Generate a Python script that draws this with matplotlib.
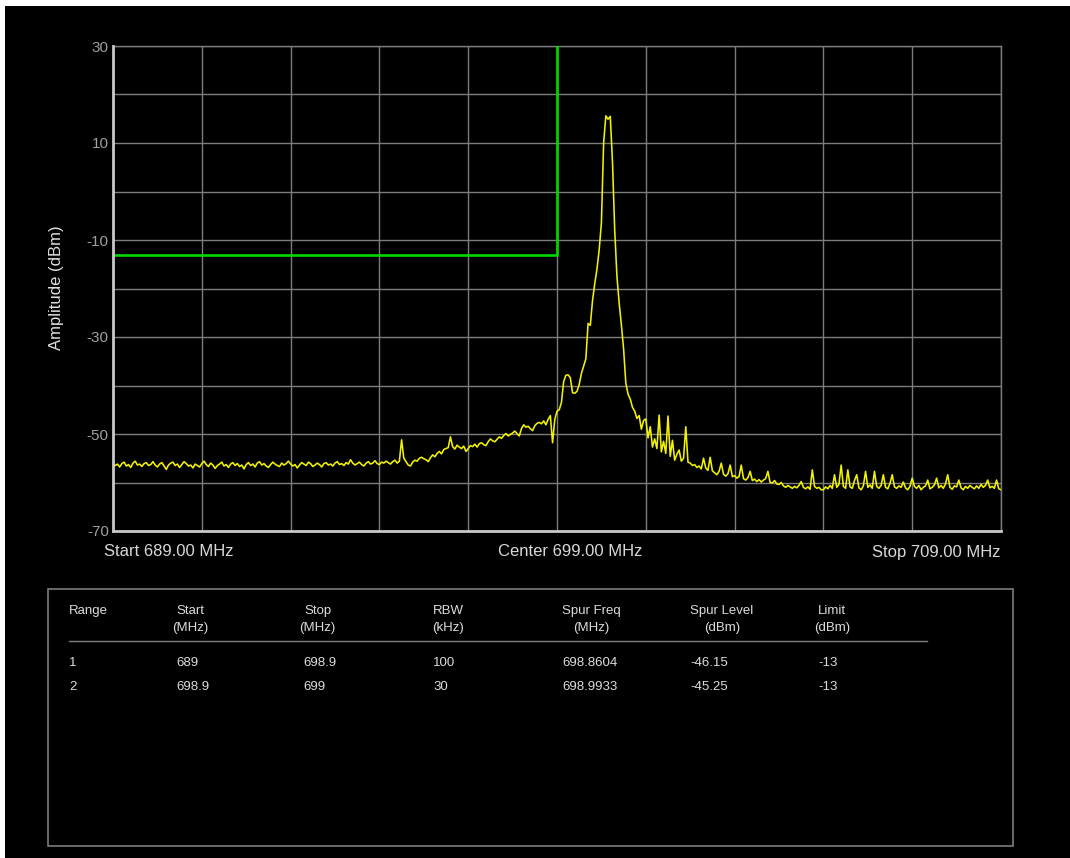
import numpy as np
import matplotlib
matplotlib.use("Agg")
import matplotlib.pyplot as plt
from matplotlib.patches import Rectangle
from matplotlib.lines import Line2D

# ---------------- data ----------------
start_mhz = 689.0
stop_mhz = 709.0
step_mhz = 0.05

# trace level (dBm) every 0.05 MHz from 689.00 to 709.00 (one row per MHz)
trace_dbm = [
    # 689
    -56.0, -56.5, -56.2, -56.8, -56.1, -55.8, -56.6, -56.3, -56.9, -56.0,
    -55.6, -56.4, -56.2, -56.7, -56.1, -55.9, -56.5, -56.3, -55.7, -56.4,
    # 690
    -56.8, -56.2, -55.9, -56.6, -57.3, -56.4, -56.0, -55.8, -56.5, -56.2,
    -56.9, -56.3, -55.7, -56.1, -56.6, -56.4, -57.0, -56.2, -56.5, -56.8,
    # 691
    -56.1, -55.6, -56.3, -56.7, -56.0, -56.4, -57.1, -56.5, -56.2, -55.8,
    -56.6, -56.3, -56.9, -56.2, -55.9, -56.5, -56.1, -56.7, -56.4, -57.2,
    # 692
    -56.3, -55.9, -56.5, -56.2, -56.8, -56.0, -55.7, -56.4, -56.1, -56.6,
    -56.9, -56.3, -55.8, -56.2, -56.5, -56.7, -56.0, -56.4, -56.1, -55.6,
    # 693
    -56.2, -56.6, -56.3, -57.0, -56.4, -55.9, -56.2, -56.5, -55.8, -56.1,
    -56.7, -56.4, -56.0, -56.3, -56.8, -56.1, -55.9, -56.4, -56.2, -56.6,
    # 694
    -56.0, -55.7, -56.3, -56.1, -56.5, -55.9, -56.2, -55.3, -56.0, -56.4,
    -56.1, -55.8, -56.3, -56.6, -56.0, -55.7, -56.2, -56.0, -55.5, -56.1,
    # 695
    -56.3, -55.8, -56.0, -55.6, -55.9, -56.2, -55.7, -55.4, -56.0, -55.6,
    -51.2, -55.0, -55.7, -56.4, -56.6, -55.8, -55.4, -55.6, -55.0, -54.8,
    # 696
    -55.1, -55.3, -55.7, -54.9, -54.3, -54.7, -54.0, -53.6, -54.1, -53.2,
    -53.0, -52.8, -50.6, -52.6, -53.1, -52.3, -52.7, -53.0, -52.5, -53.6,
    # 697
    -53.0, -52.4, -52.6, -52.1, -52.7, -52.0, -51.8, -52.2, -52.4, -51.6,
    -51.0, -51.4, -51.6, -51.1, -50.6, -50.9, -50.3, -49.9, -50.4, -50.1,
    # 698
    -49.8, -49.4, -49.9, -50.4, -48.9, -48.1, -48.6, -48.4, -48.9, -49.3,
    -48.3, -47.8, -47.6, -47.9, -47.3, -48.1, -47.0, -46.2, -51.8, -47.0,
    # 699
    -45.3, -45.0, -43.5, -39.2, -37.9, -37.8, -38.4, -41.5, -41.6, -41.2,
    -39.8, -37.5, -36.0, -34.5, -27.2, -27.6, -22.5, -19.0, -16.0, -12.0,
    # 700
    -6.5, 10.0, 15.6, 14.9, 15.5, 6.0, -8.0, -17.5, -23.0, -27.5,
    -32.5, -39.5, -41.8, -42.8, -44.5, -45.3, -46.8, -46.2, -49.0, -47.2,
    # 701
    -46.9, -50.8, -48.5, -52.7, -51.0, -53.0, -46.1, -53.7, -51.5, -54.0,
    -46.3, -54.6, -51.3, -55.4, -54.2, -53.3, -55.6, -55.0, -48.5, -55.8,
    # 702
    -56.0, -56.5, -56.3, -56.9, -56.6, -57.2, -55.0, -57.0, -57.5, -54.8,
    -57.6, -58.0, -58.4, -57.7, -56.0, -58.3, -58.7, -58.2, -56.4, -58.8,
    # 703
    -58.6, -59.1, -58.8, -56.4, -59.2, -59.5, -59.0, -57.7, -59.6, -59.3,
    -59.8, -59.4, -59.9, -59.5, -59.2, -57.7, -60.0, -60.1, -59.6, -60.3,
    # 704
    -60.4, -60.0, -60.7, -61.0, -60.6, -60.9, -61.2, -60.8, -61.1, -60.6,
    -59.8, -61.0, -61.3, -60.9, -61.4, -57.4, -60.8, -61.2, -61.0, -61.5,
    # 705
    -61.5, -60.9, -61.3, -60.6, -61.2, -58.4, -61.0, -60.4, -56.4, -60.8,
    -61.2, -57.4, -60.9, -61.2, -59.6, -58.4, -61.1, -61.5, -60.7, -57.7,
    # 706
    -61.0, -60.5, -61.2, -57.7, -60.8, -61.2, -60.6, -58.4, -61.0, -61.3,
    -60.2, -58.4, -60.9, -61.2, -60.7, -61.0, -59.9, -61.1, -61.5, -60.8,
    # 707
    -59.1, -60.8, -61.2, -60.6, -61.5, -61.0, -60.7, -59.5, -61.3, -61.0,
    -60.5, -59.1, -61.1, -60.6, -61.2, -60.3, -58.4, -61.0, -61.4, -60.7,
    # 708
    -60.9, -59.5, -61.1, -61.5, -60.8, -61.2, -60.6, -61.0, -61.3, -60.7,
    -61.2, -60.4, -61.0, -60.6, -59.5, -61.1, -60.8, -61.2, -59.5, -61.3,
    # 709
    -61.5,
]

limit_freq = [689.0, 699.0, 699.0]
limit_dbm = [-13.0, -13.0, 30.0]

y_ticks = [30, 20, 10, 0, -10, -20, -30, -40, -50, -60, -70]
y_tick_labels = ["30", "", "10", "", "-10", "", "-30", "", "-50", "", "-70"]
x_label_start = "Start 689.00 MHz"
x_label_center = "Center 699.00 MHz"
x_label_stop = "Stop 709.00 MHz"
y_label = "Amplitude (dBm)"

table_headers = [["Range", ""], ["Start", "(MHz)"], ["Stop", "(MHz)"], ["RBW", "(kHz)"],
                 ["Spur Freq", "(MHz)"], ["Spur Level", "(dBm)"], ["Limit", "(dBm)"]]
table_rows = [
    ["1", "689", "698.9", "100", "698.8604", "-46.15", "-13"],
    ["2", "698.9", "699", "30", "698.9933", "-45.25", "-13"],
]

# ---------------- figure ----------------
W, H = 1070, 858
fig = plt.figure(figsize=(W / 100, H / 100), dpi=100, facecolor="white")


def fx(x):
    return x / W


def fy(y):
    return 1 - y / H


fig.patches.append(Rectangle((fx(5), 0), 1, fy(6), transform=fig.transFigure,
                             facecolor="black", edgecolor="none", zorder=-10))

ax = fig.add_axes([fx(113), fy(531), (1001 - 113) / W, (531 - 46) / H])
ax.set_facecolor("black")

freq = np.linspace(start_mhz, stop_mhz, len(trace_dbm))
ax.plot(freq, trace_dbm, color="#f2f200", lw=1.15, zorder=3)
ax.plot(limit_freq, limit_dbm, color="#00d800", lw=1.9, zorder=4)

ax.set_xlim(start_mhz, stop_mhz)
ax.set_ylim(-70, 30)
ax.set_xticks(np.arange(start_mhz, stop_mhz + 0.01, 2.0))
ax.set_yticks(y_ticks)
ax.set_yticklabels(y_tick_labels)
ax.tick_params(axis="x", length=0, labelbottom=False)
ax.tick_params(axis="y", length=0, pad=3, labelcolor="#a0a0a0", labelsize=10)
for lbl in ax.get_yticklabels():
    lbl.set_family(["Liberation Sans Narrow", "Liberation Sans"])
    lbl.set_fontsize(11)
ax.grid(True, color="#7c7c7c", lw=1.0, zorder=1)
ax.set_axisbelow(True)
for side in ("top", "right"):
    ax.spines[side].set_color("#7c7c7c")
    ax.spines[side].set_linewidth(1.0)
for side in ("left", "bottom"):
    ax.spines[side].set_color("#c8c8c8")
    ax.spines[side].set_linewidth(2.0)
    ax.spines[side].set_zorder(5)

lab_font = ["Liberation Sans", "DejaVu Sans"]
fig.text(fx(57), fy(288), y_label, rotation=90, ha="center", va="center",
         color="#e0e0e0", fontsize=12, family=lab_font)
fig.text(fx(104), fy(552), x_label_start, ha="left", va="center",
         color="#d8d8d8", fontsize=12, family=lab_font)
fig.text(fx(570.5), fy(552), x_label_center, ha="center", va="center",
         color="#d8d8d8", fontsize=12, family=lab_font)
fig.text(fx(1001), fy(552), x_label_stop, ha="right", va="center",
         color="#d8d8d8", fontsize=12, family=lab_font)

# ---------------- table ----------------
fig.patches.append(Rectangle((fx(48), fy(845.5)), (1012.5 - 48) / W, (845.5 - 588.5) / H,
                             transform=fig.transFigure, facecolor="none",
                             edgecolor="#7c7c7c", lw=1.2))
fig.lines.append(Line2D([fx(69), fx(927)], [fy(640.5), fy(640.5)],
                        transform=fig.transFigure, color="#7c7c7c", lw=1.0))

header_centers = [None, 190, 317.5, 448, 591.5, 722, 832]
data_left = [69, 176, 303, 433, 562.5, 690, 818]
tab_font = ["Liberation Sans", "DejaVu Sans"]
tcol = "#dcdcdc"
for i, (h1, h2) in enumerate(table_headers):
    if header_centers[i] is None:
        fig.text(fx(data_left[i]), fy(611), h1, ha="left", va="center",
                 color=tcol, fontsize=9.5, family=tab_font)
    else:
        fig.text(fx(header_centers[i]), fy(611), h1, ha="center", va="center",
                 color=tcol, fontsize=9.5, family=tab_font)
        fig.text(fx(header_centers[i]), fy(627.5), h2, ha="center", va="center",
                 color=tcol, fontsize=9.5, family=tab_font)
row_y = [662.5, 687.5]
for r, row in enumerate(table_rows):
    for i, val in enumerate(row):
        fig.text(fx(data_left[i]), fy(row_y[r]), val, ha="left", va="center",
                 color=tcol, fontsize=9.5, family=tab_font)

fig.savefig("out.png", dpi=100, facecolor=fig.get_facecolor())
